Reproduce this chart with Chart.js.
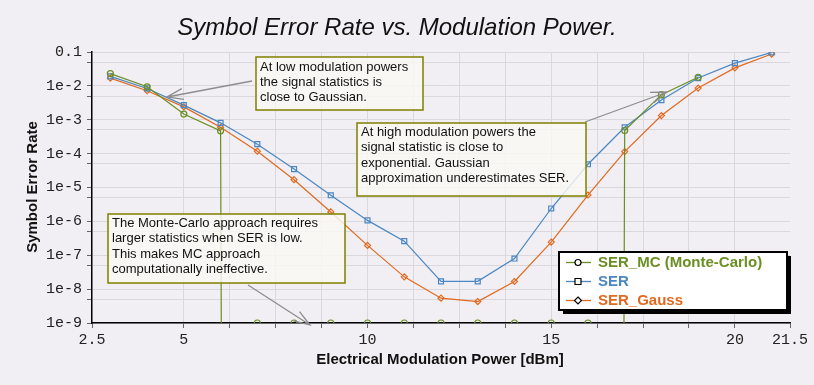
<!DOCTYPE html>
<html><head><meta charset="utf-8">
<script src="https://cdn.jsdelivr.net/npm/chart.js@4/dist/chart.umd.min.js"></script>
<style>html,body{margin:0;padding:0;background:#f1eff3;overflow:hidden}#wrap{width:814px;height:385px;position:relative}</style>
</head><body><div id="wrap"><canvas id="c"></canvas></div>
<script>
// ---- data ----
const powers = [3,4,5,6,7,8,9,10,11,12,13,14,15,16,17,18,19,20,21];
const serMC = [2.3e-2,9.4e-3,1.47e-3,4.7e-4,0,0,0,0,0,0,0,0,0,0,4.8e-4,5.5e-3,1.8e-2,null,null];
const ser = [1.9e-2,8.4e-3,2.7e-3,8.1e-4,1.9e-4,3.5e-5,5.9e-6,1.07e-6,2.6e-7,1.7e-8,1.7e-8,8.0e-8,2.4e-6,4.85e-5,6.0e-4,3.8e-3,1.7e-2,4.7e-2,9.7e-2];
const serGauss = [1.7e-2,7.2e-3,2.4e-3,6.0e-4,1.18e-4,1.7e-5,1.9e-6,1.95e-7,2.3e-8,5.4e-9,4.3e-9,1.68e-8,2.45e-7,6.0e-6,1.15e-4,1.33e-3,8.6e-3,3.4e-2,8.7e-2];
const seriesNames = ['SER_MC (Monte-Carlo)','SER','SER_Gauss'];
const xTickValues = [2.5,5,6.25,7.5,8.75,10,11.25,12.5,13.75,15,16.25,17.5,18.75,20,21.5];
const xLabelValues = [2.5,5,10,15,20,21.5];
const xTickLabels = ['2.5','5','10','15','20','21.5'];
const yTickValues = [1e-9,5e-9,1e-8,5e-8,1e-7,5e-7,1e-6,5e-6,1e-5,5e-5,1e-4,5e-4,1e-3,5e-3,1e-2,5e-2,1e-1];
const yLabelValues = [1e-9,1e-8,1e-7,1e-6,1e-5,1e-4,1e-3,1e-2,1e-1];
const yTickLabels = ['1e-9','1e-8','1e-7','1e-6','1e-5','1e-4','1e-3','1e-2','0.1'];
const Y_MIN = 1e-9, Y_MAX = 0.1;

const GREEN = '#6b8e23', BLUE = '#4a87c2', ORANGE = '#e2691f';
const BG = '#f1eff3';
const pts = arr => powers.map((x,i)=>({x, y: arr[i]}));
// zero counts on a log axis: the line falls straight to -infinity, markers sit on the axis floor
const mcLine = pts(serMC.map(v => v === 0 ? 1e-300 : v));
const mcZero = pts(serMC.map(v => v === 0 ? Y_MIN : null));

const decor = {
  id:'decor',
  beforeDraw(chart){
    const c = chart.ctx; c.save(); c.fillStyle = BG; c.fillRect(0,0,chart.width,chart.height); c.restore();
  },
  afterDatasetsDraw(chart){
    const c = chart.ctx;
    c.save();
    const F = "13px 'Liberation Sans', Arial, sans-serif";
    function box(x,y,w,h,lines,tx,ty,dy){
      c.fillStyle = 'rgba(250,249,244,0.82)';
      c.fillRect(x,y,w,h);
      c.strokeStyle = '#808000'; c.lineWidth = 1.5;
      c.strokeRect(x,y,w,h);
      c.fillStyle = '#111'; c.font = F; c.textBaseline = 'middle'; c.textAlign='left';
      lines.forEach((t,i)=>c.fillText(t,tx,ty+i*dy));
    }
    function arrow(x1,y1,x2,y2){
      c.strokeStyle = '#8d8d8d'; c.lineWidth = 1.3;
      c.beginPath(); c.moveTo(x1,y1); c.lineTo(x2,y2);
      const a = Math.atan2(y1-y2,x1-x2), L=17, h=19*Math.PI/180;
      c.moveTo(x2+L*Math.cos(a+h), y2+L*Math.sin(a+h)); c.lineTo(x2,y2);
      c.lineTo(x2+L*Math.cos(a-h), y2+L*Math.sin(a-h));
      c.stroke();
    }
    arrow(252,81,167,97);
    arrow(585,122,667,92);
    arrow(248,285,310,325);
    box(256,57,167,53,['At low modulation powers','the signal statistics is','close to Gaussian.'],260,67,15.2);
    box(357,123,229,73,['At high modulation powers the','signal statistic is close to','exponential. Gaussian','approximation underestimates SER.'],361,132.5,15.4);
    box(108,214,237,69,['The Monte-Carlo approach requires','larger statistics when SER is low.','This makes MC approach','computationally ineffective.'],112,223.5,15.4);

    // legend
    const lx=559, ly=252, lw=228, lh=58;
    c.fillStyle='#000'; c.fillRect(lx+4,ly+4,lw,lh);
    c.fillStyle='#fff'; c.fillRect(lx,ly,lw,lh);
    c.strokeStyle='#000'; c.lineWidth=2; c.strokeRect(lx,ly,lw,lh);
    const cols=[GREEN,BLUE,ORANGE], rows=[262.5,281.5,300.5];
    c.font = "bold 15px 'Liberation Sans', Arial, sans-serif"; c.textBaseline='middle';
    rows.forEach((ry,i)=>{
      c.strokeStyle=cols[i]; c.lineWidth=1.3;
      c.beginPath(); c.moveTo(566,ry); c.lineTo(591,ry); c.stroke();
      c.strokeStyle='#000'; c.lineWidth=1.2; c.fillStyle='#fff';
      c.beginPath();
      if(i===0){ c.arc(578,ry,3,0,Math.PI*2); }
      else if(i===1){ c.rect(575,ry-3,6,6); }
      else { c.moveTo(578,ry-3.5); c.lineTo(581.5,ry); c.lineTo(578,ry+3.5); c.lineTo(574.5,ry); c.closePath(); }
      c.fill(); c.stroke();
      c.fillStyle=cols[i]; c.fillText(seriesNames[i],598,ry+0.5);
    });
    c.restore();
  },
  afterDraw(chart){
    const c = chart.ctx; c.save();
    c.fillStyle='#111'; c.textAlign='center';
    c.font = "italic 24px 'Liberation Sans', Arial, sans-serif"; c.textBaseline='alphabetic';
    c.fillText('Symbol Error Rate vs. Modulation Power.',397,35);
    c.font = "bold 15px 'Liberation Sans', Arial, sans-serif"; c.textBaseline='middle';
    c.fillText('Electrical Modulation Power [dBm]',440,360);
    c.translate(33,187); c.rotate(-Math.PI/2);
    c.fillText('Symbol Error Rate',0,0);
    c.restore();
  }
};

const mk = (label,data,color,style,r,extra) => Object.assign({
  label, data, borderColor: color, backgroundColor: 'rgba(0,0,0,0)',
  pointBorderColor: color, pointBackgroundColor: 'rgba(0,0,0,0)',
  pointStyle: style, pointRadius: r, pointBorderWidth: 1.2, borderWidth: 1.2, tension: 0
}, extra||{});

new Chart(document.getElementById('c'), {
  type:'line',
  data:{ datasets:[
    mk(seriesNames[0], mcLine, GREEN, 'circle', 3),
    mk('mc-zero', mcZero, GREEN, 'circle', 3, {showLine:false}),
    mk(seriesNames[1], pts(ser), BLUE, 'rect', 3.5),
    mk(seriesNames[2], pts(serGauss), ORANGE, 'rectRot', 3)
  ]},
  options:{
    responsive:true, maintainAspectRatio:false, animation:false, devicePixelRatio:1,
    layout:{padding:{top:52,right:24,left:0,bottom:0}},
    plugins:{legend:{display:false}, title:{display:false}, tooltip:{enabled:false}},
    scales:{
      x:{ type:'linear', min:2.5, max:21.5,
        afterBuildTicks: s => { s.ticks = xTickValues.map(v=>({value:v})); },
        afterFit: s => { s.height = 62; },
        ticks:{ autoSkip:false, maxRotation:0, padding:3, color:'#222',
          font:{family:"'Liberation Mono', 'DejaVu Sans Mono', monospace", size:15},
          callback: v => { const i = xLabelValues.indexOf(v); return i>=0 ? xTickLabels[i] : ''; } },
        grid:{ color: ctx => (ctx.tick && (ctx.tick.value===2.5 || ctx.tick.value===21.5)) ? 'rgba(0,0,0,0)' : '#d9d8dc',
          lineWidth:1, tickLength:5, tickColor:'#666', drawTicks:true },
        border:{ display:true, color:'#000', width:1.5 }
      },
      y:{ type:'logarithmic', min:Y_MIN, max:Y_MAX,
        afterBuildTicks: s => { s.ticks = yTickValues.map(v=>({value:v})); },
        afterFit: s => { s.width = 92; },
        ticks:{ autoSkip:false, padding:5, color:'#222',
          font:{family:"'Liberation Mono', 'DejaVu Sans Mono', monospace", size:15},
          callback: v => { const i = yLabelValues.findIndex(t => Math.abs(t-v)/t < 1e-6); return i>=0 ? yTickLabels[i] : ''; } },
        grid:{ color:'#d9d8dc', lineWidth:1, tickLength:5, tickColor:'#666' },
        border:{ display:true, color:'#000', width:1.5 }
      }
    }
  },
  plugins:[decor]
});
</script></body></html>
